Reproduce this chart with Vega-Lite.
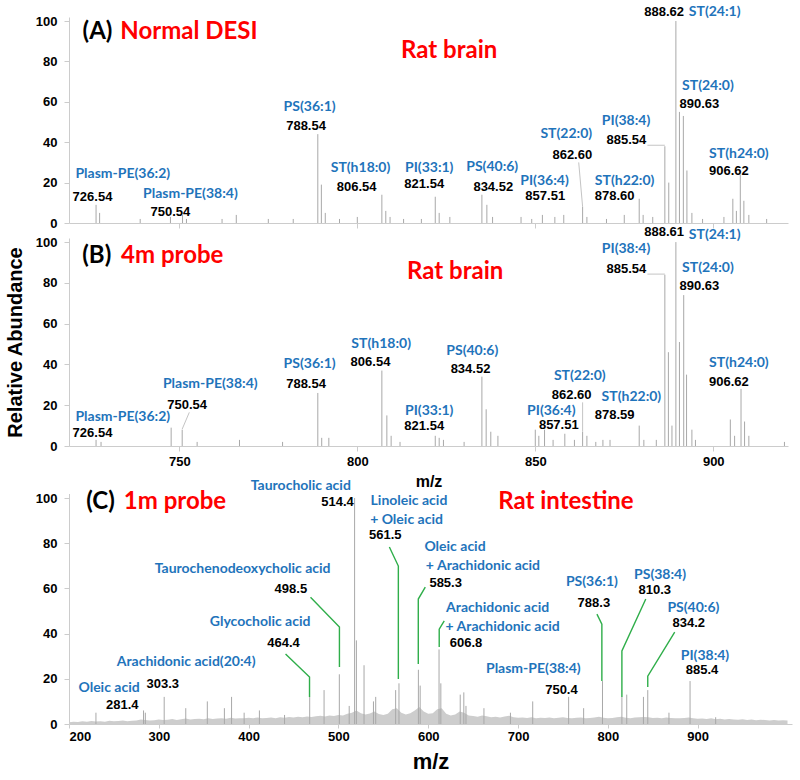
{
  "$schema": "https://vega.github.io/schema/vega-lite/v6.json",
  "padding": 5,
  "config": {
    "view": {"stroke": null},
    "axis": {"domainColor": "#cccccc", "tickColor": "#cccccc", "labelFont": "Liberation Sans", "labelFontWeight": "bold", "labelFontSize": 13, "labelColor": "#000000", "grid": false, "titleFont": "Liberation Sans", "titleFontWeight": "bold", "titleColor": "#000000"}
  },
  "datasets": {
    "peaks": [
      {"panel":"A","mz":726.6,"int":9},{"panel":"A","mz":727.6,"int":5},{"panel":"A","mz":739,"int":2},{"panel":"A","mz":747.5,"int":3},{"panel":"A","mz":750.9,"int":4},{"panel":"A","mz":752,"int":2},{"panel":"A","mz":762,"int":2},{"panel":"A","mz":766,"int":4},{"panel":"A","mz":775,"int":2},{"panel":"A","mz":782,"int":2},{"panel":"A","mz":788.9,"int":44},{"panel":"A","mz":789.9,"int":19},{"panel":"A","mz":791,"int":5},{"panel":"A","mz":795,"int":2},{"panel":"A","mz":800,"int":3},{"panel":"A","mz":806.9,"int":14},{"panel":"A","mz":808,"int":6},{"panel":"A","mz":809.2,"int":3},{"panel":"A","mz":813,"int":2},{"panel":"A","mz":818,"int":2},{"panel":"A","mz":821.9,"int":13},{"panel":"A","mz":823,"int":5},{"panel":"A","mz":826,"int":3},{"panel":"A","mz":835,"int":14},{"panel":"A","mz":836.4,"int":9},{"panel":"A","mz":838,"int":3},{"panel":"A","mz":846,"int":3},{"panel":"A","mz":849,"int":2},{"panel":"A","mz":852,"int":4},{"panel":"A","mz":855.5,"int":3},{"panel":"A","mz":858,"int":4},{"panel":"A","mz":863.3,"int":8},{"panel":"A","mz":864.5,"int":3},{"panel":"A","mz":870,"int":2},{"panel":"A","mz":875,"int":4},{"panel":"A","mz":879.2,"int":12},{"panel":"A","mz":880.3,"int":4},{"panel":"A","mz":883,"int":3},{"panel":"A","mz":886.4,"int":38},{"panel":"A","mz":887.5,"int":20},{"panel":"A","mz":889.5,"int":100},{"panel":"A","mz":890.5,"int":55},{"panel":"A","mz":891.6,"int":53},{"panel":"A","mz":892.6,"int":26},{"panel":"A","mz":894,"int":5},{"panel":"A","mz":897,"int":2},{"panel":"A","mz":903,"int":3},{"panel":"A","mz":905.5,"int":12},{"panel":"A","mz":906.5,"int":6},{"panel":"A","mz":907.6,"int":24},{"panel":"A","mz":908.6,"int":11},{"panel":"A","mz":910,"int":4},{"panel":"A","mz":915,"int":2},
      {"panel":"B","mz":726.6,"int":3},{"panel":"B","mz":728,"int":2},{"panel":"B","mz":747.7,"int":9},{"panel":"B","mz":750.8,"int":8},{"panel":"B","mz":755,"int":2},{"panel":"B","mz":766.9,"int":3},{"panel":"B","mz":779,"int":2},{"panel":"B","mz":788.9,"int":26},{"panel":"B","mz":790,"int":4},{"panel":"B","mz":792,"int":4},{"panel":"B","mz":806.9,"int":37},{"panel":"B","mz":808.3,"int":15},{"panel":"B","mz":809.5,"int":5},{"panel":"B","mz":812,"int":2},{"panel":"B","mz":821.9,"int":5},{"panel":"B","mz":823,"int":4},{"panel":"B","mz":824.2,"int":3},{"panel":"B","mz":830,"int":2},{"panel":"B","mz":835,"int":34},{"panel":"B","mz":836.2,"int":18},{"panel":"B","mz":837.5,"int":7},{"panel":"B","mz":839.5,"int":5},{"panel":"B","mz":850,"int":8},{"panel":"B","mz":851,"int":5},{"panel":"B","mz":852.6,"int":8},{"panel":"B","mz":855,"int":3},{"panel":"B","mz":858.3,"int":6},{"panel":"B","mz":861,"int":3},{"panel":"B","mz":863.3,"int":7},{"panel":"B","mz":864.5,"int":5},{"panel":"B","mz":867,"int":2},{"panel":"B","mz":869,"int":3},{"panel":"B","mz":871,"int":3},{"panel":"B","mz":879.2,"int":10},{"panel":"B","mz":880.5,"int":3},{"panel":"B","mz":884,"int":3},{"panel":"B","mz":886.4,"int":84},{"panel":"B","mz":887.4,"int":46},{"panel":"B","mz":888.4,"int":10},{"panel":"B","mz":889.5,"int":100},{"panel":"B","mz":890.5,"int":51},{"panel":"B","mz":891.7,"int":74},{"panel":"B","mz":892.5,"int":35},{"panel":"B","mz":894,"int":8},{"panel":"B","mz":895,"int":3},{"panel":"B","mz":904.8,"int":13},{"panel":"B","mz":906,"int":5},{"panel":"B","mz":907.8,"int":28},{"panel":"B","mz":908.8,"int":12},{"panel":"B","mz":910,"int":5},{"panel":"B","mz":920,"int":2},
      {"panel":"C","mz":230,"int":5},{"panel":"C","mz":283,"int":6},{"panel":"C","mz":285,"int":5},{"panel":"C","mz":306,"int":12},{"panel":"C","mz":330,"int":7},{"panel":"C","mz":354,"int":10},{"panel":"C","mz":373,"int":7},{"panel":"C","mz":381,"int":12},{"panel":"C","mz":395,"int":5},{"panel":"C","mz":412,"int":6},{"panel":"C","mz":440,"int":4},{"panel":"C","mz":468,"int":12},{"panel":"C","mz":484,"int":15},{"panel":"C","mz":501,"int":22},{"panel":"C","mz":512,"int":8},{"panel":"C","mz":518,"int":100},{"panel":"C","mz":520,"int":37},{"panel":"C","mz":528.5,"int":26},{"panel":"C","mz":539,"int":10},{"panel":"C","mz":541.5,"int":12},{"panel":"C","mz":563.7,"int":15},{"panel":"C","mz":567.4,"int":18},{"panel":"C","mz":589,"int":24},{"panel":"C","mz":591,"int":17},{"panel":"C","mz":612,"int":33},{"panel":"C","mz":614,"int":18},{"panel":"C","mz":635.6,"int":13},{"panel":"C","mz":639.6,"int":14},{"panel":"C","mz":642,"int":8},{"panel":"C","mz":662,"int":7},{"panel":"C","mz":691.5,"int":5},{"panel":"C","mz":716.3,"int":10},{"panel":"C","mz":756.3,"int":12},{"panel":"C","mz":773,"int":7},{"panel":"C","mz":794,"int":19},{"panel":"C","mz":815.6,"int":12},{"panel":"C","mz":821,"int":13},{"panel":"C","mz":839.6,"int":12},{"panel":"C","mz":844.4,"int":15},{"panel":"C","mz":868,"int":5},{"panel":"C","mz":891.5,"int":19},{"panel":"C","mz":920,"int":3}
    ],
    "baseC": [
      {"mz":200,"int":0.8},{"mz":205,"int":1.0},{"mz":210,"int":0.9},{"mz":215,"int":1.2},{"mz":220,"int":1.0},{"mz":225,"int":1.3},{"mz":230,"int":1.1},{"mz":235,"int":1.2},{"mz":240,"int":1.0},{"mz":245,"int":1.4},{"mz":250,"int":1.2},{"mz":255,"int":1.3},{"mz":260,"int":1.5},{"mz":265,"int":1.2},{"mz":270,"int":1.4},{"mz":275,"int":1.6},{"mz":280,"int":2.0},{"mz":285,"int":1.8},{"mz":290,"int":1.6},{"mz":295,"int":1.7},{"mz":300,"int":2.0},{"mz":305,"int":1.8},{"mz":310,"int":1.9},{"mz":315,"int":2.2},{"mz":320,"int":1.8},{"mz":325,"int":2.1},{"mz":330,"int":2.4},{"mz":335,"int":2.0},{"mz":340,"int":2.2},{"mz":345,"int":2.3},{"mz":350,"int":2.1},{"mz":355,"int":2.6},{"mz":360,"int":2.2},{"mz":365,"int":2.4},{"mz":370,"int":2.5},{"mz":375,"int":2.3},{"mz":380,"int":2.8},{"mz":385,"int":2.4},{"mz":390,"int":2.6},{"mz":395,"int":2.5},{"mz":400,"int":2.8},{"mz":405,"int":2.6},{"mz":410,"int":2.9},{"mz":415,"int":2.5},{"mz":420,"int":2.7},{"mz":425,"int":2.9},{"mz":430,"int":2.6},{"mz":435,"int":3.0},{"mz":440,"int":2.8},{"mz":445,"int":3.1},{"mz":450,"int":2.9},{"mz":455,"int":3.2},{"mz":460,"int":3.0},{"mz":465,"int":3.3},{"mz":470,"int":3.1},{"mz":475,"int":3.4},{"mz":480,"int":3.6},{"mz":485,"int":3.3},{"mz":490,"int":3.8},{"mz":495,"int":3.5},{"mz":500,"int":4.0},{"mz":505,"int":3.8},{"mz":510,"int":4.5},{"mz":515,"int":5.0},{"mz":520,"int":6.0},{"mz":525,"int":4.8},{"mz":530,"int":4.2},{"mz":535,"int":4.6},{"mz":540,"int":5.5},{"mz":545,"int":4.4},{"mz":550,"int":4.0},{"mz":555,"int":4.5},{"mz":560,"int":6.5},{"mz":565,"int":7.0},{"mz":570,"int":5.0},{"mz":575,"int":4.2},{"mz":580,"int":4.8},{"mz":585,"int":6.0},{"mz":590,"int":7.5},{"mz":595,"int":5.5},{"mz":600,"int":4.5},{"mz":605,"int":4.8},{"mz":610,"int":6.5},{"mz":615,"int":7.0},{"mz":620,"int":4.5},{"mz":625,"int":3.8},{"mz":630,"int":4.2},{"mz":635,"int":5.5},{"mz":640,"int":5.0},{"mz":645,"int":3.8},{"mz":650,"int":3.5},{"mz":655,"int":3.2},{"mz":660,"int":3.8},{"mz":665,"int":3.4},{"mz":670,"int":3.0},{"mz":675,"int":3.2},{"mz":680,"int":2.9},{"mz":685,"int":3.3},{"mz":690,"int":3.6},{"mz":695,"int":3.0},{"mz":700,"int":2.8},{"mz":705,"int":2.9},{"mz":710,"int":2.7},{"mz":715,"int":3.0},{"mz":720,"int":2.6},{"mz":725,"int":2.8},{"mz":730,"int":2.7},{"mz":735,"int":2.9},{"mz":740,"int":2.6},{"mz":745,"int":2.8},{"mz":750,"int":3.0},{"mz":755,"int":2.7},{"mz":760,"int":2.5},{"mz":765,"int":2.8},{"mz":770,"int":2.9},{"mz":775,"int":2.6},{"mz":780,"int":2.7},{"mz":785,"int":2.9},{"mz":790,"int":3.2},{"mz":795,"int":2.8},{"mz":800,"int":2.6},{"mz":805,"int":2.7},{"mz":810,"int":3.0},{"mz":815,"int":3.2},{"mz":820,"int":2.8},{"mz":825,"int":2.6},{"mz":830,"int":2.9},{"mz":835,"int":3.0},{"mz":840,"int":3.1},{"mz":845,"int":3.0},{"mz":850,"int":2.7},{"mz":855,"int":2.8},{"mz":860,"int":2.6},{"mz":865,"int":2.9},{"mz":870,"int":2.7},{"mz":875,"int":2.5},{"mz":880,"int":2.6},{"mz":885,"int":2.7},{"mz":890,"int":2.9},{"mz":895,"int":2.5},{"mz":900,"int":2.3},{"mz":905,"int":2.4},{"mz":910,"int":2.2},{"mz":915,"int":2.5},{"mz":920,"int":2.1},{"mz":925,"int":2.3},{"mz":930,"int":2.0},{"mz":935,"int":2.2},{"mz":940,"int":2.0},{"mz":945,"int":1.9},{"mz":950,"int":2.1},{"mz":955,"int":1.8},{"mz":960,"int":2.0},{"mz":965,"int":1.7},{"mz":970,"int":1.9},{"mz":975,"int":1.8},{"mz":980,"int":1.6},{"mz":985,"int":1.8},{"mz":990,"int":1.5},{"mz":995,"int":1.7},{"mz":1000,"int":1.5}
    ],
    "labels": [
      {"panel":"A","kind":"id","text":"(A)","mz":727.0,"int":94.6},
      {"panel":"A","kind":"cond","text":"Normal DESI","mz":752.7,"int":94.6},
      {"panel":"A","kind":"cond","text":"Rat brain","mz":825.8,"int":85.1},
      {"panel":"A","kind":"name","text":"Plasm-PE(36:2)","mz":734.1,"int":24.3},
      {"panel":"A","kind":"name","text":"Plasm-PE(38:4)","mz":753.1,"int":14.4},
      {"panel":"A","kind":"name","text":"PS(36:1)","mz":786.6,"int":57.3},
      {"panel":"A","kind":"name","text":"ST(h18:0)","mz":800.9,"int":27},
      {"panel":"A","kind":"name","text":"PI(33:1)","mz":820.2,"int":27},
      {"panel":"A","kind":"name","text":"PS(40:6)","mz":837.9,"int":27.6},
      {"panel":"A","kind":"name","text":"PI(36:4)","mz":852.6,"int":21},
      {"panel":"A","kind":"name","text":"ST(22:0)","mz":858.7,"int":44},
      {"panel":"A","kind":"name","text":"ST(h22:0)","mz":875.1,"int":21},
      {"panel":"A","kind":"name","text":"PI(38:4)","mz":875.5,"int":50.6},
      {"panel":"A","kind":"name","text":"ST(24:1)","mz":900.4,"int":104.3},
      {"panel":"A","kind":"name","text":"ST(24:0)","mz":898.5,"int":67.7},
      {"panel":"A","kind":"name","text":"ST(h24:0)","mz":907.2,"int":34.2},
      {"panel":"A","kind":"num","text":"726.54","mz":725.6,"int":13},
      {"panel":"A","kind":"num","text":"750.54","mz":747.5,"int":5.4},
      {"panel":"A","kind":"num","text":"788.54","mz":785.6,"int":48.2},
      {"panel":"A","kind":"num","text":"806.54","mz":799.8,"int":18},
      {"panel":"A","kind":"num","text":"821.54","mz":818.8,"int":19.3},
      {"panel":"A","kind":"num","text":"834.52","mz":838.2,"int":17.7},
      {"panel":"A","kind":"num","text":"857.51","mz":852.8,"int":13.5},
      {"panel":"A","kind":"num","text":"862.60","mz":860.4,"int":33.7},
      {"panel":"A","kind":"num","text":"878.60","mz":872.3,"int":13.5},
      {"panel":"A","kind":"num","text":"885.54","mz":875.6,"int":41.2},
      {"panel":"A","kind":"num","text":"888.62","mz":886.2,"int":104.6},
      {"panel":"A","kind":"num","text":"890.63","mz":896.1,"int":58.9},
      {"panel":"A","kind":"num","text":"906.62","mz":904.4,"int":25.9},
      {"panel":"B","kind":"id","text":"(B)","mz":726.8,"int":93.1},
      {"panel":"B","kind":"cond","text":"4m probe","mz":748,"int":93.1},
      {"panel":"B","kind":"cond","text":"Rat brain","mz":827.5,"int":85.3},
      {"panel":"B","kind":"name","text":"Plasm-PE(36:2)","mz":734.1,"int":14},
      {"panel":"B","kind":"name","text":"Plasm-PE(38:4)","mz":758.7,"int":30.4},
      {"panel":"B","kind":"name","text":"PS(36:1)","mz":786.6,"int":40.2},
      {"panel":"B","kind":"name","text":"ST(h18:0)","mz":806.7,"int":50},
      {"panel":"B","kind":"name","text":"PI(33:1)","mz":820.2,"int":17.3},
      {"panel":"B","kind":"name","text":"PS(40:6)","mz":832.3,"int":46.7},
      {"panel":"B","kind":"name","text":"PI(36:4)","mz":854.5,"int":17.3},
      {"panel":"B","kind":"name","text":"ST(22:0)","mz":862.5,"int":34.2},
      {"panel":"B","kind":"name","text":"ST(h22:0)","mz":877,"int":23.9},
      {"panel":"B","kind":"name","text":"PI(38:4)","mz":875.5,"int":96.6},
      {"panel":"B","kind":"name","text":"ST(24:1)","mz":900.4,"int":103.4},
      {"panel":"B","kind":"name","text":"ST(24:0)","mz":898.5,"int":87.1},
      {"panel":"B","kind":"name","text":"ST(h24:0)","mz":907.2,"int":40.7},
      {"panel":"B","kind":"num","text":"726.54","mz":725.6,"int":6.2},
      {"panel":"B","kind":"num","text":"750.54","mz":752.2,"int":20.3},
      {"panel":"B","kind":"num","text":"788.54","mz":785.6,"int":30.4},
      {"panel":"B","kind":"num","text":"806.54","mz":803.7,"int":41},
      {"panel":"B","kind":"num","text":"821.54","mz":818.8,"int":9.7},
      {"panel":"B","kind":"num","text":"834.52","mz":831.8,"int":37.7},
      {"panel":"B","kind":"num","text":"857.51","mz":856.6,"int":10.3},
      {"panel":"B","kind":"num","text":"862.60","mz":860.2,"int":25},
      {"panel":"B","kind":"num","text":"878.59","mz":872.3,"int":15.2},
      {"panel":"B","kind":"num","text":"885.54","mz":875.6,"int":86.8},
      {"panel":"B","kind":"num","text":"888.61","mz":886.2,"int":104.8},
      {"panel":"B","kind":"num","text":"890.63","mz":896.1,"int":78.3},
      {"panel":"B","kind":"num","text":"906.62","mz":904.4,"int":31.5},
      {"panel":"C","kind":"id","text":"(C)","mz":235,"int":98.2},
      {"panel":"C","kind":"cond","text":"1m probe","mz":318,"int":98.2},
      {"panel":"C","kind":"cond","text":"Rat intestine","mz":753.3,"int":98.2},
      {"panel":"C","kind":"name","text":"Oleic acid","mz":244.6,"int":15.8},
      {"panel":"C","kind":"name","text":"Arachidonic acid(20:4)","mz":330.4,"int":27.6},
      {"panel":"C","kind":"name","text":"Glycocholic acid","mz":412.8,"int":45.3},
      {"panel":"C","kind":"name","text":"Taurochenodeoxycholic acid","mz":393.3,"int":68.6},
      {"panel":"C","kind":"name","text":"Taurocholic acid","mz":458.1,"int":105.3},
      {"panel":"C","kind":"name","text":"Linoleic acid","mz":578.5,"int":98.7},
      {"panel":"C","kind":"name","text":"+ Oleic acid","mz":575.8,"int":90.4},
      {"panel":"C","kind":"name","text":"Oleic acid","mz":629.8,"int":78.2},
      {"panel":"C","kind":"name","text":"+ Arachidonic acid","mz":660.9,"int":69.8},
      {"panel":"C","kind":"name","text":"Arachidonic acid","mz":677.2,"int":51.2},
      {"panel":"C","kind":"name","text":"+ Arachidonic acid","mz":682.8,"int":42.8},
      {"panel":"C","kind":"name","text":"Plasm-PE(38:4)","mz":717,"int":24.3},
      {"panel":"C","kind":"name","text":"PS(36:1)","mz":782.2,"int":63},
      {"panel":"C","kind":"name","text":"PS(38:4)","mz":858.1,"int":65.9},
      {"panel":"C","kind":"name","text":"PS(40:6)","mz":895.2,"int":51.2},
      {"panel":"C","kind":"name","text":"PI(38:4)","mz":908.1,"int":30.2},
      {"panel":"C","kind":"num","text":"281.4","mz":259.3,"int":8.4},
      {"panel":"C","kind":"num","text":"303.3","mz":304.4,"int":17.7},
      {"panel":"C","kind":"num","text":"464.4","mz":438.9,"int":35.7},
      {"panel":"C","kind":"num","text":"498.5","mz":447,"int":59.7},
      {"panel":"C","kind":"num","text":"514.4","mz":498.9,"int":98.2},
      {"panel":"C","kind":"num","text":"561.5","mz":552.2,"int":83.6},
      {"panel":"C","kind":"num","text":"585.3","mz":619.4,"int":62.4},
      {"panel":"C","kind":"num","text":"606.8","mz":642,"int":35.8},
      {"panel":"C","kind":"num","text":"750.4","mz":748.3,"int":15.2},
      {"panel":"C","kind":"num","text":"788.3","mz":784.4,"int":53.5},
      {"panel":"C","kind":"num","text":"810.3","mz":852.2,"int":59.4},
      {"panel":"C","kind":"num","text":"834.2","mz":890,"int":44.7},
      {"panel":"C","kind":"num","text":"885.4","mz":904.8,"int":24}
    ],
    "leadersC": [
      {"id":"464.4","ord":1,"mz":441.1,"int":31.0},{"id":"464.4","ord":2,"mz":467.8,"int":20.8},{"id":"464.4","ord":3,"mz":467.8,"int":11.9},
      {"id":"498.5","ord":1,"mz":468.9,"int":56.1},{"id":"498.5","ord":2,"mz":501.1,"int":42.9},{"id":"498.5","ord":3,"mz":501.1,"int":25.2},
      {"id":"561.5","ord":1,"mz":556.7,"int":78.3},{"id":"561.5","ord":2,"mz":566.7,"int":69.9},{"id":"561.5","ord":3,"mz":566.7,"int":19.9},
      {"id":"585.3","ord":1,"mz":596.7,"int":60.6},{"id":"585.3","ord":2,"mz":588.9,"int":55.3},{"id":"585.3","ord":3,"mz":588.9,"int":26.5},
      {"id":"606.8","ord":1,"mz":617.8,"int":45.6},{"id":"606.8","ord":2,"mz":612.2,"int":42.0},{"id":"606.8","ord":3,"mz":612.2,"int":34.1},
      {"id":"788.3","ord":1,"mz":787.8,"int":48.6},{"id":"788.3","ord":2,"mz":793.3,"int":44.2},{"id":"788.3","ord":3,"mz":793.3,"int":19.0},
      {"id":"810.3","ord":1,"mz":842.2,"int":55.3},{"id":"810.3","ord":2,"mz":815.6,"int":32.3},{"id":"810.3","ord":3,"mz":815.6,"int":11.9},
      {"id":"834.2","ord":1,"mz":874.4,"int":40.7},{"id":"834.2","ord":2,"mz":844.4,"int":21.2},{"id":"834.2","ord":3,"mz":844.4,"int":16.4}
    ],
    "leadersAB": [
      {"panel":"A","id":"885","ord":1,"mz":881.5,"int":38.5},{"panel":"A","id":"885","ord":2,"mz":886.4,"int":38.5},
      {"panel":"A","id":"862","ord":1,"mz":862.2,"int":30},{"panel":"A","id":"862","ord":2,"mz":863.3,"int":8},
      {"panel":"B","id":"885","ord":1,"mz":881.5,"int":84.3},{"panel":"B","id":"885","ord":2,"mz":886.4,"int":84.3},
      {"panel":"B","id":"750","ord":1,"mz":752.8,"int":16.5},{"panel":"B","id":"750","ord":2,"mz":750.8,"int":8.3},
      {"panel":"B","id":"862","ord":1,"mz":863.3,"int":21.4},{"panel":"B","id":"862","ord":2,"mz":863.3,"int":7}
    ]
  },
  "bounds": "flush",
  "spacing": 15,
  "vconcat": [
    {
      "width": 719, "height": 206,
      "encoding": {
        "x": {"field": "mz", "type": "quantitative", "scale": {"domain": [719, 921], "nice": false, "zero": false}, "axis": {"values": [750, 800, 850, 900], "labels": false, "title": null, "tickSize": 5}},
        "y": {"field": "int", "type": "quantitative", "scale": {"domain": [0, 102], "nice": false}, "axis": {"values": [0, 20, 40, 60, 80, 100], "title": null, "tickSize": 5, "labelPadding": 7}}
      },
      "layer": [
        {"data": {"name": "peaks"}, "transform": [{"filter": "datum.panel === 'A'"}], "mark": {"type": "rule", "color": "#a8a8a8", "strokeWidth": 1}, "encoding": {"y2": {"datum": 0}}},
        {"data": {"name": "leadersAB"}, "transform": [{"filter": "datum.panel === 'A'"}], "mark": {"type": "line", "color": "#c4c4c4", "strokeWidth": 1}, "encoding": {"detail": {"field": "id"}, "order": {"field": "ord"}}},
        {"data": {"name": "labels"}, "transform": [{"filter": "datum.panel === 'A' && datum.kind === 'name'"}], "mark": {"type": "text", "font": "Lato", "fontWeight": "bold", "fontSize": 14, "color": "#1f74bb", "baseline": "middle"}, "encoding": {"text": {"field": "text"}}},
        {"data": {"name": "labels"}, "transform": [{"filter": "datum.panel === 'A' && datum.kind === 'num'"}], "mark": {"type": "text", "font": "Liberation Sans", "fontWeight": "bold", "fontSize": 13, "color": "#000000", "baseline": "middle"}, "encoding": {"text": {"field": "text"}}},
        {"data": {"name": "labels"}, "transform": [{"filter": "datum.panel === 'A' && (datum.kind === 'id' || datum.kind === 'cond')"}], "mark": {"type": "text", "font": "Lato", "fontWeight": "bold", "fontSize": 24, "baseline": "middle"}, "encoding": {"text": {"field": "text"}, "color": {"field": "kind", "type": "nominal", "scale": {"domain": ["id", "cond"], "range": ["#000000", "#ff0000"]}, "legend": null}}}
      ]
    },
    {
      "width": 719, "height": 208,
      "encoding": {
        "x": {"field": "mz", "type": "quantitative", "scale": {"domain": [719, 921], "nice": false, "zero": false}, "axis": {"values": [750, 800, 850, 900], "title": "m/z", "titleFontSize": 16, "titlePadding": 5, "tickSize": 5, "labelPadding": 4}},
        "y": {"field": "int", "type": "quantitative", "scale": {"domain": [0, 102], "nice": false}, "axis": {"values": [0, 20, 40, 60, 80, 100], "title": "Relative Abundance", "titleFontSize": 20, "titlePadding": 10, "tickSize": 5, "labelPadding": 7}}
      },
      "layer": [
        {"data": {"name": "peaks"}, "transform": [{"filter": "datum.panel === 'B'"}], "mark": {"type": "rule", "color": "#a8a8a8", "strokeWidth": 1}, "encoding": {"y2": {"datum": 0}}},
        {"data": {"name": "leadersAB"}, "transform": [{"filter": "datum.panel === 'B'"}], "mark": {"type": "line", "color": "#c4c4c4", "strokeWidth": 1}, "encoding": {"detail": {"field": "id"}, "order": {"field": "ord"}}},
        {"data": {"name": "labels"}, "transform": [{"filter": "datum.panel === 'B' && datum.kind === 'name'"}], "mark": {"type": "text", "font": "Lato", "fontWeight": "bold", "fontSize": 14, "color": "#1f74bb", "baseline": "middle"}, "encoding": {"text": {"field": "text"}}},
        {"data": {"name": "labels"}, "transform": [{"filter": "datum.panel === 'B' && datum.kind === 'num'"}], "mark": {"type": "text", "font": "Liberation Sans", "fontWeight": "bold", "fontSize": 13, "color": "#000000", "baseline": "middle"}, "encoding": {"text": {"field": "text"}}},
        {"data": {"name": "labels"}, "transform": [{"filter": "datum.panel === 'B' && (datum.kind === 'id' || datum.kind === 'cond')"}], "mark": {"type": "text", "font": "Lato", "fontWeight": "bold", "fontSize": 24, "baseline": "middle"}, "encoding": {"text": {"field": "text"}, "color": {"field": "kind", "type": "nominal", "scale": {"domain": ["id", "cond"], "range": ["#000000", "#ff0000"]}, "legend": null}}}
      ]
    },
    {
      "width": 723, "height": 263,
      "encoding": {
        "x": {"field": "mz", "type": "quantitative", "scale": {"domain": [200, 1005], "nice": false, "zero": false}, "axis": {"values": [200, 300, 400, 500, 600, 700, 800, 900], "title": "m/z", "titleFontSize": 22, "titlePadding": 8, "tickSize": 4, "labelPadding": 2}},
        "y": {"field": "int", "type": "quantitative", "scale": {"domain": [0, 102], "nice": false, "range": [263, 32.5]}, "axis": {"values": [0, 20, 40, 60, 80, 100], "title": null, "tickSize": 5, "labelPadding": 7}}
      },
      "layer": [
        {"data": {"name": "baseC"}, "mark": {"type": "area", "color": "#cdcdcd"}},
        {"data": {"name": "peaks"}, "transform": [{"filter": "datum.panel === 'C'"}], "mark": {"type": "rule", "color": "#a8a8a8", "strokeWidth": 1}, "encoding": {"y2": {"datum": 0}}},
        {"data": {"name": "leadersC"}, "mark": {"type": "line", "color": "#2fae4a", "strokeWidth": 1.4}, "encoding": {"detail": {"field": "id"}, "order": {"field": "ord"}}},
        {"data": {"name": "labels"}, "transform": [{"filter": "datum.panel === 'C' && datum.kind === 'name'"}], "mark": {"type": "text", "font": "Lato", "fontWeight": "bold", "fontSize": 14, "color": "#1f74bb", "baseline": "middle"}, "encoding": {"text": {"field": "text"}}},
        {"data": {"name": "labels"}, "transform": [{"filter": "datum.panel === 'C' && datum.kind === 'num'"}], "mark": {"type": "text", "font": "Liberation Sans", "fontWeight": "bold", "fontSize": 13, "color": "#000000", "baseline": "middle"}, "encoding": {"text": {"field": "text"}}},
        {"data": {"name": "labels"}, "transform": [{"filter": "datum.panel === 'C' && (datum.kind === 'id' || datum.kind === 'cond')"}], "mark": {"type": "text", "font": "Lato", "fontWeight": "bold", "fontSize": 24, "baseline": "middle"}, "encoding": {"text": {"field": "text"}, "color": {"field": "kind", "type": "nominal", "scale": {"domain": ["id", "cond"], "range": ["#000000", "#ff0000"]}, "legend": null}}}
      ]
    }
  ]
}
